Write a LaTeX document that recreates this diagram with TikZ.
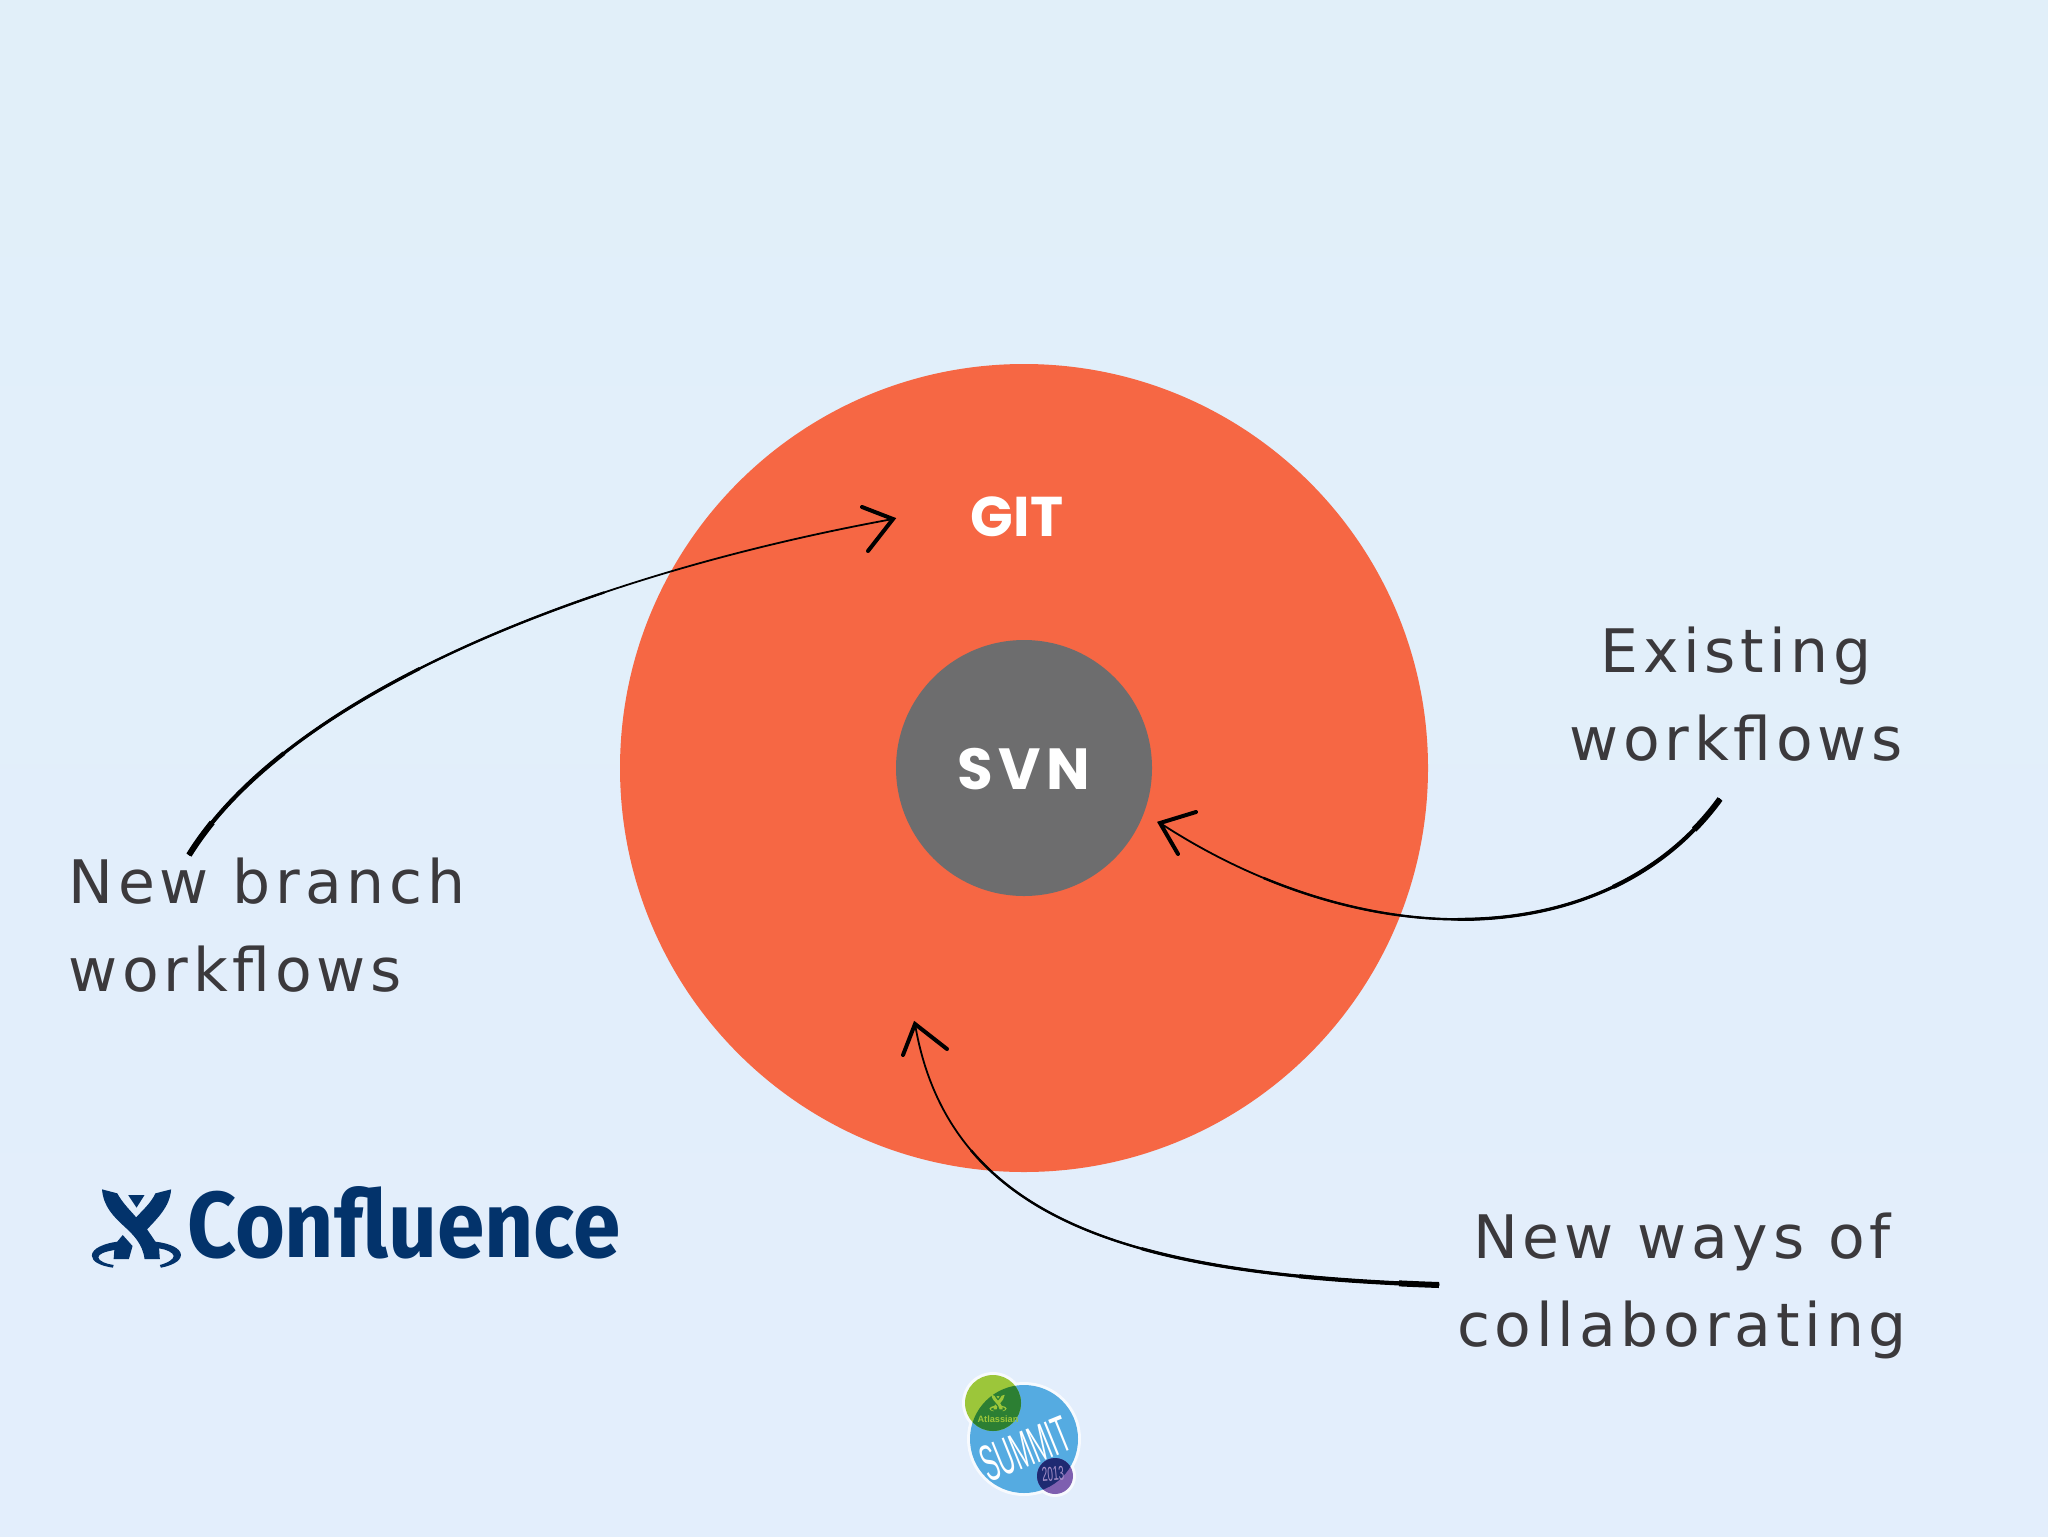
\documentclass[tikz,border=0pt]{standalone}
\usepackage{graphicx}
\usepackage{fontspec}
\setmainfont{Liberation Sans}
\newfontfamily\handfont[LetterSpace=8]{DejaVu Sans}
\newfontfamily\popfont{Poppins}
\newfontfamily\logofont{Fira Sans}
\definecolor{bgtop}{HTML}{E1EFF9}
\definecolor{bgbottom}{HTML}{E3EEFC}
\definecolor{gitred}{HTML}{F66744}
\definecolor{svngray}{HTML}{6D6D6E}
\definecolor{handink}{HTML}{3B393C}
\definecolor{navy}{HTML}{03336B}
\definecolor{sumblue}{HTML}{55ABE1}
\definecolor{sumlime}{HTML}{9CC63A}
\definecolor{sumgreen}{HTML}{2C7F33}
\definecolor{sumpurple}{HTML}{7E5FB0}
\definecolor{sumdark}{HTML}{1E2A72}
\tikzset{
  disk/.style={circle,inner sep=0pt,fill=#1},
  hand/.style={text=handink,font=\handfont\fontsize{30}{44}\selectfont,inner sep=0pt},
  title/.style={text=white,font=\popfont\bfseries,inner sep=0pt,anchor=base},
  barb/.style={line width=2pt,line cap=round,line join=miter,black},
}
% tapered brush stroke: thick at the start of the path, thin at its end
\newcommand{\brush}[1]{%
  \draw[black,line width=.9pt] #1;
  \draw[black,line width=1.2pt,dash pattern=on 250pt off 5000pt] #1;
  \draw[black,line width=1.6pt,dash pattern=on 150pt off 5000pt] #1;
  \draw[black,line width=2.1pt,dash pattern=on 70pt off 5000pt] #1;
  \draw[black,line width=3pt,dash pattern=on 20pt off 5000pt] #1;
}
% the figure of the logo
\newcommand{\figurebody}[1]{%
  \fill[#1] (88,88) -- (130,100) .. controls (145,130) and (165,150) .. (182,172)
    .. controls (200,150) and (222,130) .. (235,100) -- (278,88)
    .. controls (275,140) and (240,175) .. (212,208) -- (235,245)
    .. controls (275,250) and (305,265) .. (305,285)
    .. controls (305,305) and (275,318) .. (250,323) -- (247,315)
    .. controls (270,308) and (285,298) .. (285,288)
    .. controls (285,278) and (265,268) .. (245,265) -- (247,297) -- (205,297)
    .. controls (200,250) and (170,220) .. (150,200)
    .. controls (120,170) and (92,140) .. (88,88) -- cycle;
  \fill[#1] (145,225) -- (172,258) -- (162,297) -- (120,297) -- (122,270)
    .. controls (95,275) and (78,282) .. (78,292)
    .. controls (78,303) and (100,312) .. (120,315) -- (118,323)
    .. controls (85,318) and (60,305) .. (60,287)
    .. controls (60,265) and (95,250) .. (130,245) -- cycle;
  \fill[#1] (160,105) -- (205,105) -- (183,143) -- cycle;
}
\begin{document}
\begin{tikzpicture}[x=0.5pt,y=-0.5pt]
\useasboundingbox (0,0) rectangle (2048,1536);
\shade[top color=bgtop,bottom color=bgbottom] (0,0) rectangle (2048,1536);

% discs
\node[disk=gitred,minimum size=404pt] (gitdisk) at (1024,768) {};
\node[disk=svngray,minimum size=128pt] (svndisk) at (1024,768) {};
\node[title,font=\popfont\bfseries\fontsize{28}{28}\selectfont] (gitlabel) at (1017,536) {GIT};
\node[title,font=\popfont\bfseries\fontsize{29}{29}\selectfont] (svnlabel) at (1024,789) {S\kern2.8pt V\kern2.8pt N};

% labels
\node[hand,anchor=west,align=left] (newbranch) at (68,925) {New branch\\workflows};
\node[hand,anchor=center,align=center] (existing) at (1736,694) {Existing\\workflows};
\node[hand,anchor=center,align=center] (newways) at (1682,1286) {New ways of\\collaborating};

% connectors
\coordinate (a1s) at (189,855);
\coordinate (a1t) at (893,519);
\coordinate (a1u) at (862,507);
\coordinate (a1v) at (868,551);
\brush{(a1s) .. controls (285,700) and (570,578) .. (a1t)}
\draw[barb] (a1u) -- (a1t) -- (a1v);

\coordinate (a2s) at (1720,799);
\coordinate (a2t) at (1160,823);
\coordinate (a2u) at (1196,812);
\coordinate (a2v) at (1178,854);
\brush{(a2s) .. controls (1610,950) and (1370,960) .. (a2t)}
\draw[barb] (a2u) -- (a2t) -- (a2v);

\coordinate (a3s) at (1439,1285);
\coordinate (a3t) at (915,1024);
\coordinate (a3u) at (947,1049);
\coordinate (a3v) at (903,1055);
\brush{(a3s) .. controls (1150,1275) and (950,1230) .. (a3t)}
\draw[barb] (a3u) -- (a3t) -- (a3v);

% Confluence logo
\begin{scope}[shift={(70,1160)},xscale=1/2.75,yscale=1/3]
  \figurebody{navy}
\end{scope}
\node[inner sep=0pt,anchor=south west,text=navy] (confluence) at (187,1259)
  {\resizebox{216.5pt}{35.5pt}{\logofont\bfseries Confluence}};

% Summit badge
\fill[white!70!bgbottom] (1024,1439) circle[radius=57];
\fill[white!70!bgbottom] (993,1403) circle[radius=31];
\fill[white!70!bgbottom] (1055,1476) circle[radius=21];
\fill[sumblue] (1024,1439) circle[radius=54];
\fill[sumlime] (993,1403) circle[radius=28];
\fill[sumpurple] (1055,1476) circle[radius=18];
\begin{scope}
  \clip (1024,1439) circle[radius=54];
  \fill[sumgreen] (993,1403) circle[radius=28];
  \fill[sumdark] (1055,1476) circle[radius=18];
\end{scope}
\begin{scope}[shift={(998,1403)},scale=0.07,shift={(-182,-205)}]
  \figurebody{sumlime}
\end{scope}
\node[inner sep=0pt,text=sumlime,font=\bfseries\fontsize{4.6}{4.6}\selectfont] (atlassian) at (998,1419) {Atlassian};
\node[inner sep=0pt,text=white,rotate=22] (summit) at (1025,1449) {\resizebox{46pt}{18pt}{SUMMIT}};
\node[inner sep=0pt,text=sumpurple!70!white,rotate=5] (year) at (1053,1474) {\resizebox{11pt}{7pt}{2013}};
\end{tikzpicture}
\end{document}
